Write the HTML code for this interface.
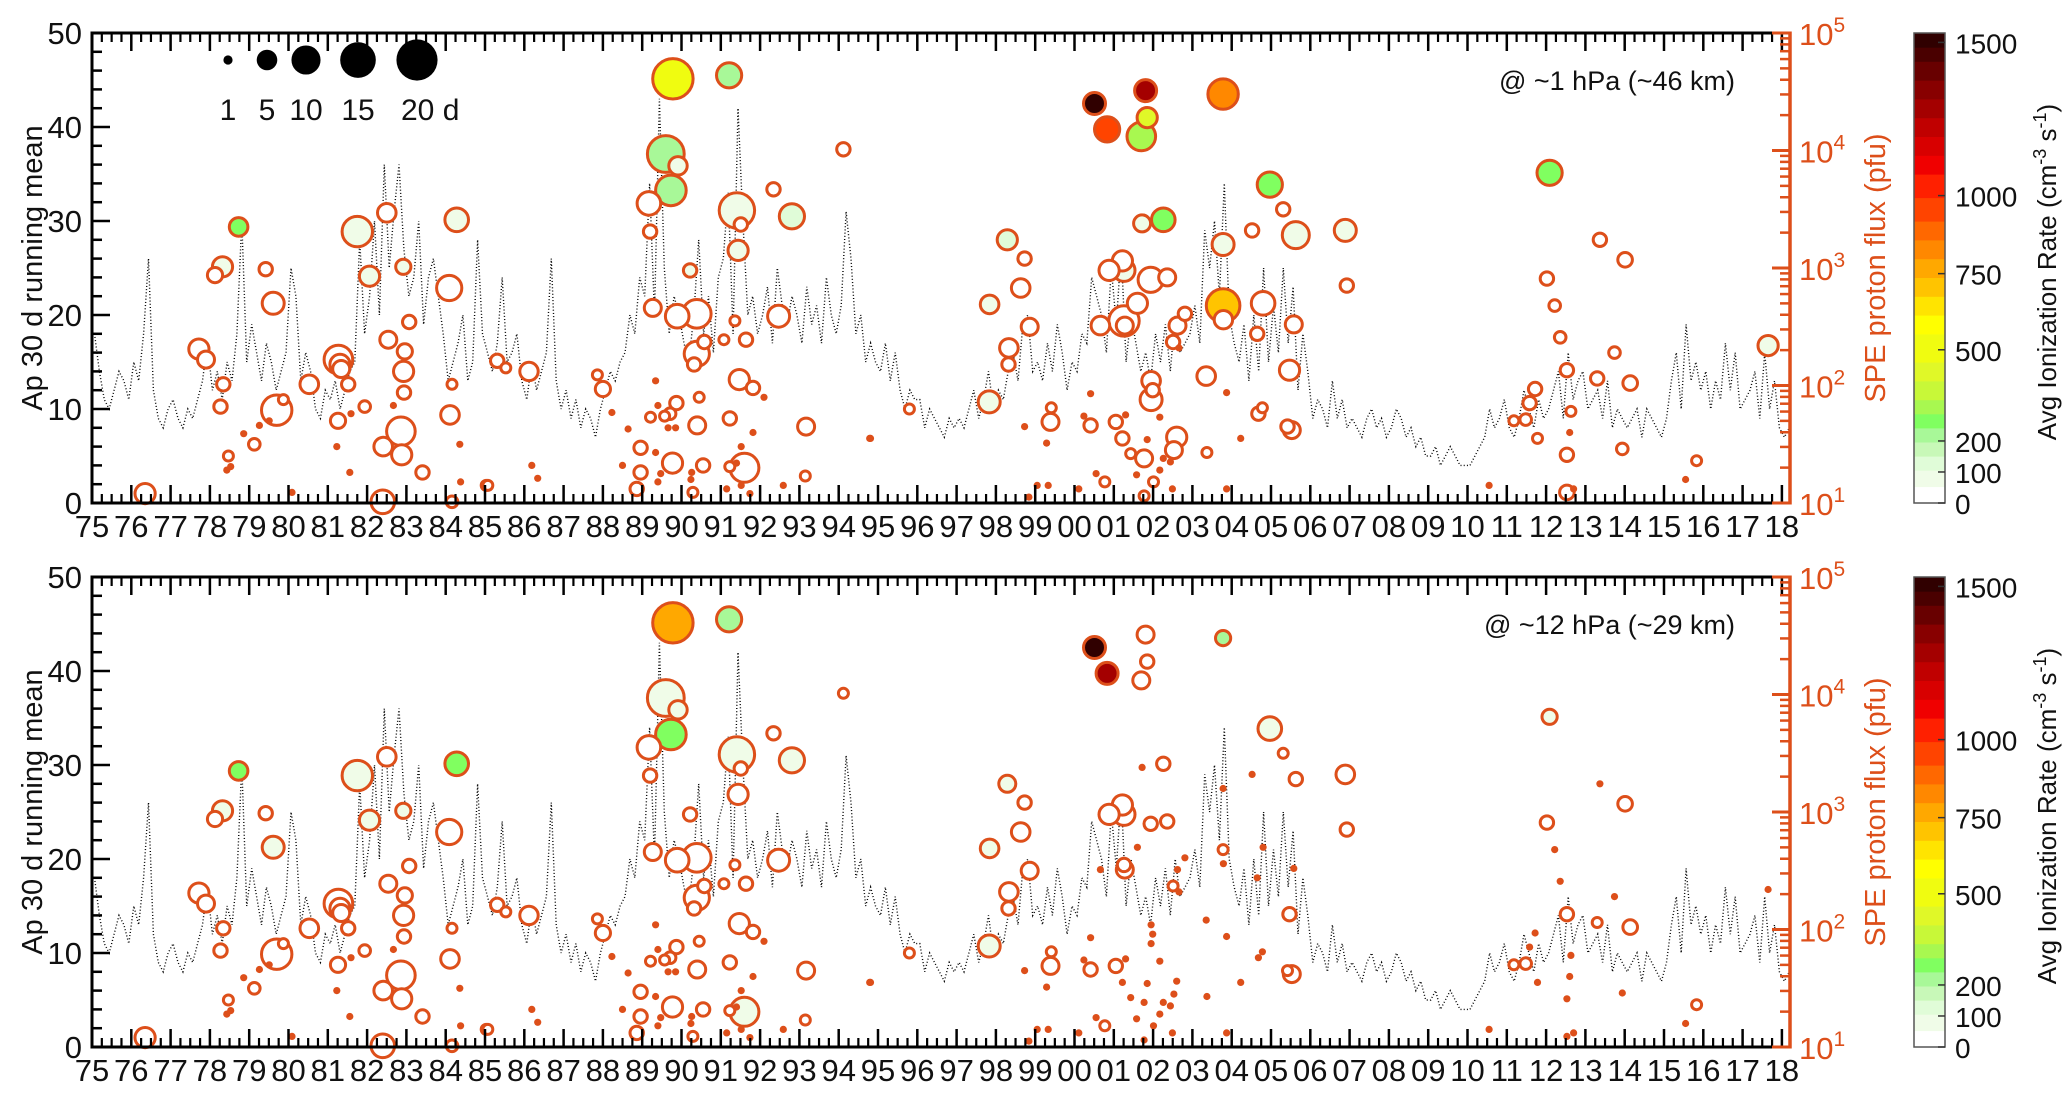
<!DOCTYPE html>
<html><head><meta charset="utf-8"><title>SPE and Ap chart</title>
<style>
html,body{margin:0;padding:0;background:#fff;}
svg{display:block;font-family:"Liberation Sans",Arial,sans-serif;}
</style></head>
<body>
<svg id="fig" width="2067" height="1103" viewBox="0 0 2067 1103" xmlns="http://www.w3.org/2000/svg"></svg>
<script>
// ---- data ----
const apStartYear = 1975;
const apPerYear = 8;
const apValues = [
18,14,11,10,12,14,13,11,
15,13,18,26,12,9,8,10,
11,9,8,10,9,11,13,17,
12,14,11,15,13,18,30,15,
19,16,13,17,15,12,14,16,
25,22,13,16,14,10,9,12,
11,13,10,12,14,15,28,18,
22,30,20,36,25,31,36,27,
22,24,30,19,24,26,22,18,
13,15,17,20,13,15,28,18,
16,14,17,24,15,16,18,13,
11,15,12,14,16,26,13,10,
12,9,11,8,10,9,7,10,
12,14,13,15,16,20,18,24,
22,34,20,43,25,18,22,20,
17,15,20,28,18,22,16,24,
26,33,18,42,30,20,22,18,
20,23,17,25,21,19,22,20,
17,23,19,21,17,24,20,18,
21,31,26,18,20,15,17,15,
14,17,13,16,12,10,12,11,
11,8,10,9,8,7,9,8,
9,8,10,12,9,11,14,10,
12,11,14,16,13,19,20,14,
15,13,17,14,19,16,12,15,
14,18,17,24,22,20,16,25,
19,27,15,20,17,14,16,13,
18,15,19,14,20,16,17,18,
21,17,29,25,30,22,34,20,
17,15,19,13,20,14,25,15,
21,16,25,17,23,12,18,14,
9,11,10,8,13,9,11,8,
9,8,7,9,10,8,9,7,
8,10,9,7,8,6,7,5,
5,6,4,5,6,5,4,4,
4,5,6,7,10,8,9,11,
8,7,9,12,10,8,11,9,
10,12,14,9,16,11,13,14,
10,11,12,9,13,8,10,9,
8,9,10,7,10,9,8,7,
9,13,16,10,19,13,15,12,
14,10,13,11,17,12,16,10,
11,12,14,9,16,10,13,8,
7,8];

// SPE events: year, log10(flux), duration days (top), ionization (top), [duration bottom], [ionization bottom]
const speYear = [];
const speLogFlux = [];
const speDur = [];
const speIonTop = [];
const speDurBot = [];
const speIonBot = [];
const speEvents = [
[1976.35,1.08,4.8,0],[1977.72,2.31,4.8,0],[1977.90,2.22,3.4,50],[1978.13,2.94,2.7,0],[1978.32,3.01,4.8,80],
[1978.73,3.35,4.1,260,4.1,260],[1978.34,2.01,2.1,0],[1978.27,1.82,2.1,0],[1978.47,1.40,1.2,0],[1978.43,1.28,0,0],
[1978.53,1.31,0,0],[1978.86,1.59,0,0],[1979.13,1.50,1.6,0],[1979.26,1.66,0,0],[1979.42,2.99,2.1,0],
[1979.61,2.70,5.7,0,5.7,60],[1979.70,1.79,10.9,0],[1979.87,1.88,1.2,0],[1979.51,1.70,0,0],[1980.09,1.09,0,0],
[1980.53,2.01,4.1,0],[1981.27,2.22,9.7,0],[1981.31,2.18,4.8,0],[1981.34,2.14,3.4,0],[1981.52,2.01,2.1,0],
[1981.26,1.70,2.7,0],[1981.23,1.48,0,0],[1981.59,1.76,0,0],[1981.56,1.26,0,0],[1981.75,3.31,10.9,60],
[1981.94,1.82,1.6,0],[1982.06,2.93,4.8,70],[1982.50,3.47,4.1,0],[1982.92,3.01,2.7,60],[1982.54,2.39,3.4,0],
[1983.07,2.54,2.1,0],[1982.96,2.29,2.7,0],[1982.93,2.12,4.8,0],[1982.94,1.94,2.1,0],[1982.86,1.61,9.7,0],
[1982.88,1.41,4.8,0],[1982.41,1.48,4.1,0],[1982.67,1.83,0,0],[1982.40,1.01,6.6,0],[1983.41,1.26,2.1,0],
[1984.28,3.41,6.6,60,6.6,260],[1984.09,2.83,7.5,0],[1984.16,2.01,1.2,0],[1984.11,1.75,4.1,0],[1984.36,1.50,0,0],
[1984.38,1.18,0,0],[1984.16,1.01,1.6,0],[1985.03,1.15,1.2,0],
[1989.78,4.61,19.3,500,19.3,770],[1991.21,4.64,7.5,240,7.5,240],[1989.60,3.97,16,240,16,70],[1989.91,3.87,4,60],
[1989.73,3.66,11,240,11,260],[1989.17,3.55,6.6,0],[1989.20,3.31,2.1,0],[1991.41,3.49,14.8,60,14.8,60],[1991.51,3.37,2.1,0],
[1991.44,3.15,4.8,60,4.8,0],[1990.22,2.98,2.1,60,2.1,0],[1992.34,3.67,2.1,0],[1992.81,3.44,7.5,120,7.5,60],[1994.12,4.01,2.1,0,1.2,0],
[1989.27,2.66,3.4,0],[1989.89,2.59,6.6,0],[1990.39,2.61,9.7,0],[1991.36,2.55,1.2,0],[1992.47,2.59,5.7,0],
[1990.58,2.37,2.1,0],[1990.39,2.27,7.5,0],[1990.32,2.18,2.1,0],[1991.08,2.39,1.2,0],[1991.64,2.39,2.1,0],
[1985.31,2.21,2.1,0],[1985.53,2.15,1.2,0],[1986.12,2.12,4,0],[1987.86,2.09,1.2,0],[1988.00,1.97,2.7,0],
[1991.47,2.05,4.8,0],[1991.82,1.98,2.1,0],[1991.23,1.72,2.1,0],[1990.45,1.90,1.2,0],[1989.87,1.85,2.1,0],
[1989.71,1.76,1.6,0],[1989.57,1.74,1.2,0],[1989.21,1.73,1.2,0],[1990.40,1.66,3.4,0],[1993.17,1.65,3.4,0],
[1988.96,1.47,2.1,0],[1988.96,1.26,2.1,0],[1989.77,1.34,4.8,0],[1990.55,1.32,2.1,0],[1991.23,1.31,1.2,0],
[1993.15,1.23,1.2,0],[1988.86,1.12,2.1,0],[1985.07,1.15,1.2,0],[1990.29,1.09,1.2,0],[1991.60,1.30,10,0,10,60],
[1989.34,2.04,0,0],[1989.40,1.83,0,0],[1989.66,1.64,0,0],[1989.85,1.64,0,0],[1988.23,1.77,0,0],
[1988.64,1.63,0,0],[1989.34,1.43,0,0],[1989.47,1.25,0,0],[1989.40,1.18,0,0],[1990.26,1.26,0,0],
[1990.24,1.20,0,0],[1991.52,1.48,0,0],[1991.82,1.60,0,0],[1992.10,1.90,0,0],[1991.40,1.34,0,0],
[1991.52,1.15,0,0],[1991.15,1.12,0,0],[1991.74,1.08,0,0],[1992.59,1.15,0,0],[1994.79,1.55,0,0],
[1986.19,1.32,0,0],[1986.34,1.21,0,0],[1988.50,1.32,0,0],
[2000.51,4.40,5.7,1500,5.7,1500],[2000.83,4.18,7.5,960,5.7,1300],[2001.81,4.51,5.7,1300,3.4,0],[2001.85,4.28,4.8,430,2.1,0],[2001.70,4.12,9.7,330,3.4,0],
[2003.78,4.48,10.9,830,2.7,240],[2003.78,2.68,13.4,690,1.2,0],[2003.79,2.56,4,0,0,0],[2003.78,3.20,5.7,60,0,0],[2004.97,3.71,7.5,260,6.6,70],
[2005.31,3.50,2.1,0,1.2,0],[2004.52,3.32,2.1,0,0,0],[2005.63,3.28,8.6,60,2.1,0],[2002.26,3.41,6.6,260,2.1,0],[2001.72,3.38,3.4,60,0,0],
[1998.29,3.24,4.8,120,3.4,60],[1998.73,3.08,2.1,0],[1998.63,2.83,4.1,0],[1997.84,2.69,4.1,60],[1998.86,2.50,3.4,0],
[1998.33,2.32,4.1,0],[1998.32,2.18,2.1,0],[1997.83,1.86,5.7,60],[1995.80,1.80,1.2,0],[2001.22,3.06,4.8,0],
[2000.88,2.98,4.8,0],[2001.26,2.98,5.7,60,5.7,0],[2001.94,2.90,7.5,0,2.1,0],[2002.36,2.92,3.4,0,2.1,0],[2001.60,2.70,4.8,0,0,0],
[2001.26,2.55,10.9,0,2.1,0],[2001.28,2.51,3.4,0],[2000.66,2.51,4.1,0,0,0],[2002.62,2.51,3.4,0,0,0],[2002.81,2.61,2.1,0,0,0],
[2002.51,2.37,2.1,0,1.2,0],[2004.80,2.70,6.6,0,0,0],[2004.65,2.44,2.1,0,0,0],[2005.58,2.52,3.4,0,0,0],[2005.47,2.13,4.8,0,2.1,0],
[2003.35,2.08,4.1,0,0,0],[2001.95,2.04,4.1,0,0,0],[2001.99,1.96,2.1,0,0,0],[2001.95,1.88,5.7,0,0,0],[1999.41,1.81,1.2,0],
[1999.39,1.69,3.4,0],[2000.41,1.66,2.1,0],[2001.05,1.69,2.1,0],[2001.22,1.55,2.1,0,0,0],[2001.43,1.42,1.2,0,0,0],
[2001.77,1.38,3.4,0,0,0],[2002.60,1.56,4.8,0,0,0],[2002.53,1.45,3.4,0,0,0],[2002.01,1.18,1.2,0,0,0],[2000.77,1.18,1.2,0],
[2003.37,1.43,1.2,0,0,0],[2004.68,1.76,2.1,0,0,0],[2004.78,1.81,1.2,0,0,0],[2005.42,1.65,2.1,0,1.2,0],[2005.53,1.62,3.4,0],
[2001.77,1.06,1.2,0,0,0],
[1994.81,1.55,0,0],[1998.73,1.65,0,0],[1999.29,1.51,0,0],[2000.41,1.93,0,0],[2000.24,1.74,0,0],
[2001.30,1.75,0,0],[2001.85,1.54,0,0],[2002.17,1.73,0,0],[2000.55,1.25,0,0],[2001.58,1.24,0,0],
[2002.17,1.28,0,0],[2002.26,1.38,0,0],[2002.44,1.35,0,0],[2002.49,1.12,0,0],[2003.87,1.94,0,0],
[2004.23,1.55,0,0],[2003.87,1.12,0,0],[2002.66,2.32,0,0],[1999.05,1.15,0,0],[1999.33,1.15,0,0],
[2000.11,1.12,0,0],[1998.84,1.05,0,0],
[2006.89,3.32,5.7,60,4.1,0],[2006.93,2.85,2.1,0],[2012.09,3.81,7.5,260,2.7,60],[2012.02,2.91,2.1,0],[2012.22,2.68,1.6,0,0,0],
[2012.36,2.41,1.6,0,0,0],[2012.53,2.13,2.1,0],[2013.37,3.24,2.1,0,0,0],[2014.01,3.07,2.5,0],[2013.74,2.28,1.6,0,0,0],
[2014.14,2.02,2.5,0],[2013.30,2.06,2.1,0,1.2,0],[2011.58,1.85,2.1,0,0,0],[2011.72,1.97,2.1,0,0,0],[2011.48,1.71,1.6,0],
[2011.18,1.70,1.2,0],[2011.78,1.55,1.2,0,0,0],[2012.53,1.41,2.1,0,0,0],[2012.53,1.09,2.5,0,0,0],[2012.63,1.78,1.2,0,0,0],
[2013.94,1.46,1.6,0,0,0],[2012.60,1.60,0,0],[2015.83,1.36,1.2,0],[2017.65,2.34,4.8,60,0,0],[2012.70,1.12,0,0],
[2015.55,1.20,0,0],[2010.55,1.15,0,0]
];
for (const e of speEvents) {
  speYear.push(e[0]); speLogFlux.push(e[1]); speDur.push(e[2]); speIonTop.push(e[3]);
  speDurBot.push(e.length > 4 ? e[4] : e[2]); speIonBot.push(e.length > 5 ? e[5] : e[3]);
}
const legendDays = [1, 5, 10, 15, 20];
const legendLabels = ["1", "5", "10", "15", "20 d"];
const cbTickValues = [0, 100, 200, 500, 750, 1000, 1500];
const cbTickLabels = ["0", "100", "200", "500", "750", "1000", "1500"];
const cbTickFrac = [0, 0.066, 0.132, 0.326, 0.488, 0.654, 0.98];
const cbBandTop = [0.035,0.07,0.10,0.13,0.16,0.19,0.22,0.26,0.30,0.36,0.40,0.44,0.48,0.52,0.56,0.60,0.65,0.70,0.74,0.78,0.82,0.86,0.90,0.94,0.97,1.0];
const cbBandColor = ["#ffffff","#f0fce8","#e0fcd8","#c8f8b8","#a8f898","#80ff60","#a8f850","#c8f838","#e0f828","#f0fc10","#ffff00","#ffe400","#ffc400","#ffa800","#ff8800","#ff6800","#ff4400","#ff2000","#f00000","#d80000","#c00000","#a40000","#880000","#680000","#4a0000","#300000"];
const apTicks = [0, 10, 20, 30, 40, 50];
const fluxTickExp = [1, 2, 3, 4, 5];

// ---- layout ----
const X0 = 92, X1 = 1790, PXYR = 39.3;
const panels = [
  {top: 33, bot: 503, name: "upper", label: "@ ~1 hPa (~46 km)", durs: speDur, ions: speIonTop, legend: true},
  {top: 577, bot: 1047, name: "lower", label: "@ ~12 hPa (~29 km)", durs: speDurBot, ions: speIonBot, legend: false}
];
const ORANGE = "#dd4f1a";
const svg = document.getElementById("fig");
const NS = "http://www.w3.org/2000/svg";
function mk(tag, attrs, parent) {
  const el = document.createElementNS(NS, tag);
  for (const k in attrs) el.setAttribute(k, attrs[k]);
  (parent || svg).appendChild(el);
  return el;
}
function xOf(yr) { return X0 + (yr - 1975) * PXYR; }
function fracOfIon(v) {
  if (v <= cbTickValues[0]) return 0;
  for (let i = 1; i < cbTickValues.length; i++) {
    if (v <= cbTickValues[i]) {
      const t = (v - cbTickValues[i-1]) / (cbTickValues[i] - cbTickValues[i-1]);
      return cbTickFrac[i-1] + t * (cbTickFrac[i] - cbTickFrac[i-1]);
    }
  }
  return 1;
}
function colorOfFrac(f) {
  for (let i = 0; i < cbBandTop.length; i++) if (f <= cbBandTop[i]) return cbBandColor[i];
  return cbBandColor[cbBandColor.length - 1];
}
function yrLabel(y) { return String(y % 100).padStart(2, "0"); }

panels.forEach((p, pi) => {
  const H = p.bot - p.top;
  const yAp = v => p.bot - v / 50 * H;
  const yFlux = lf => p.bot - (lf - 1) / 4 * H;
  const g = mk("g", {});
  
  

  // Ap dotted series
  const pts = apValues.map((v, i) => xOf(apStartYear + (i + 0.5) / apPerYear).toFixed(1) + "," + yAp(v).toFixed(1)).join(" ");
  const apLine = mk("polyline", {points: pts, fill: "none", stroke: "#000", "stroke-width": 1.4, "stroke-dasharray": "1 2.2"}, g);
  
  

  // SPE circles (large first)
  const order = speYear.map((_, i) => i).sort((a, b) => p.durs[b] - p.durs[a]);
  const cg = mk("g", {}, g);
  
  
  order.forEach(i => {
    const cx = xOf(speYear[i]), cy = yFlux(speLogFlux[i]);
    const d = p.durs[i];
    let c;
    if (d <= 0) {
      c = mk("circle", {cx: cx.toFixed(1), cy: cy.toFixed(1), r: 3.6, fill: ORANGE}, cg);
    } else {
      const r = 4.6 * Math.sqrt(d);
      c = mk("circle", {cx: cx.toFixed(1), cy: cy.toFixed(1), r: r.toFixed(1), fill: colorOfFrac(fracOfIon(p.ions[i])), stroke: ORANGE, "stroke-width": 3}, cg);
    }
    
    
  });

  // axes frame
  const ax = mk("g", {}, g);
  
  
  mk("line", {x1: X0, y1: p.top, x2: X1, y2: p.top, stroke: "#000", "stroke-width": 3}, ax);
  mk("line", {x1: X0, y1: p.bot, x2: X1, y2: p.bot, stroke: "#000", "stroke-width": 3}, ax);
  mk("line", {x1: X0, y1: p.top - 1.5, x2: X0, y2: p.bot + 1.5, stroke: "#000", "stroke-width": 3}, ax);
  mk("line", {x1: X1, y1: p.top - 1.5, x2: X1, y2: p.bot + 1.5, stroke: ORANGE, "stroke-width": 3.5}, ax);

  // x ticks
  for (let y = 1975; y <= 2018; y++) {
    const x = xOf(y);
    mk("line", {x1: x, y1: p.bot, x2: x, y2: p.bot - 18, stroke: "#000", "stroke-width": 2.5}, ax);
    mk("line", {x1: x, y1: p.top, x2: x, y2: p.top + 18, stroke: "#000", "stroke-width": 2.5}, ax);
    for (let q = 1; q < 4; q++) {
      const xm = xOf(y + q / 4);
      if (xm >= X1 - 1) break;
      mk("line", {x1: xm, y1: p.bot, x2: xm, y2: p.bot - 9, stroke: "#000", "stroke-width": 2.2}, ax);
      mk("line", {x1: xm, y1: p.top, x2: xm, y2: p.top + 9, stroke: "#000", "stroke-width": 2.2}, ax);
    }
    const t = mk("text", {x: x, y: p.bot + 34, "text-anchor": "middle", "font-size": 31, fill: "#111"}, ax);
    t.textContent = yrLabel(y);
    
    
  }
  // left y ticks
  for (let v = 0; v <= 50; v += 2) {
    const y = yAp(v), major = v % 10 === 0;
    mk("line", {x1: X0, y1: y, x2: X0 + (major ? 18 : 10), y2: y, stroke: "#000", "stroke-width": 2.5}, ax);
  }
  apTicks.forEach(v => {
    const t = mk("text", {x: 82, y: yAp(v) + 11, "text-anchor": "end", "font-size": 31, fill: "#111"}, ax);
    t.textContent = String(v);
    
    
  });
  const yl = mk("text", {x: 0, y: 0, transform: `translate(42,${(p.top + p.bot) / 2}) rotate(-90)`, "text-anchor": "middle", "font-size": 29, fill: "#111"}, ax);
  yl.textContent = "Ap 30 d running mean";
  
  

  // right log axis
  fluxTickExp.forEach((e, k) => {
    const y = yFlux(e);
    mk("line", {x1: X1, y1: y, x2: X1 - 18, y2: y, stroke: ORANGE, "stroke-width": 3}, ax);
    if (k < fluxTickExp.length - 1) {
      for (let m = 2; m <= 9; m++) {
        const ym = yFlux(e + Math.log10(m));
        mk("line", {x1: X1, y1: ym, x2: X1 - 10, y2: ym, stroke: ORANGE, "stroke-width": 2.5}, ax);
      }
    }
    const t = mk("text", {x: 1799, y: y + 12, "font-size": 31, fill: ORANGE}, ax);
    t.textContent = "10";
    const s = mk("tspan", {dy: -13, "font-size": 21}, t);
    s.textContent = String(e);
    
    
  });
  const rl = mk("text", {x: 0, y: 0, transform: `translate(1885,${(p.top + p.bot) / 2}) rotate(-90)`, "text-anchor": "middle", "font-size": 29, fill: ORANGE}, ax);
  rl.textContent = "SPE proton flux (pfu)";
  
  

  // annotation
  const an = mk("text", {x: 1735, y: p.top + 57, "text-anchor": "end", "font-size": 27, fill: "#111"}, g);
  an.textContent = p.label;
  
  

  // size legend
  if (p.legend) {
    const lg = mk("g", {}, g);
    
    
    const lx = [228, 267, 306, 358, 417];
    legendDays.forEach((d, k) => {
      const c = mk("circle", {cx: lx[k], cy: 60, r: 4.6 * Math.sqrt(d), fill: "#000"}, lg);
      
      
      const t = mk("text", {x: k === 4 ? 401 : lx[k], y: 120, "text-anchor": k === 4 ? "start" : "middle", "font-size": 30, fill: "#111"}, lg);
      t.textContent = legendLabels[k];
      
      
    });
  }

  // colorbar
  const cb = mk("g", {}, g);
  
  
  const CX0 = 1914, CW = 31;
  let prev = 0;
  cbBandTop.forEach((f, k) => {
    const yTop = p.bot - f * H, yBot = p.bot - prev * H;
    mk("rect", {x: CX0, y: yTop.toFixed(1), width: CW, height: (yBot - yTop + 0.6).toFixed(1), fill: cbBandColor[k]}, cb);
    prev = f;
  });
  mk("rect", {x: CX0, y: p.top, width: CW, height: H, fill: "none", stroke: "#555", "stroke-width": 1.5}, cb);
  cbTickValues.forEach((v, k) => {
    const y = p.bot - cbTickFrac[k] * H;
    mk("line", {x1: CX0 + CW, y1: y, x2: CX0 + CW - 7, y2: y, stroke: "#333", "stroke-width": 1.5}, cb);
    const t = mk("text", {x: 1955, y: y + 11, "font-size": 28, fill: "#111"}, cb);
    t.textContent = cbTickLabels[k];
    
    
  });
  const ct = mk("text", {x: 0, y: 0, transform: `translate(2056,${(p.top + p.bot) / 2 + 4}) rotate(-90)`, "text-anchor": "middle", "font-size": 26, fill: "#111"}, cb);
  ct.textContent = "Avg Ionization Rate (cm";
  const s1 = mk("tspan", {dy: -10, "font-size": 18}, ct); s1.textContent = "-3";
  const s2 = mk("tspan", {dy: 10}, ct); s2.textContent = " s";
  const s3 = mk("tspan", {dy: -10, "font-size": 18}, ct); s3.textContent = "-1";
  const s4 = mk("tspan", {dy: 10}, ct); s4.textContent = ")";
  
  
});
</script>
</body></html>
